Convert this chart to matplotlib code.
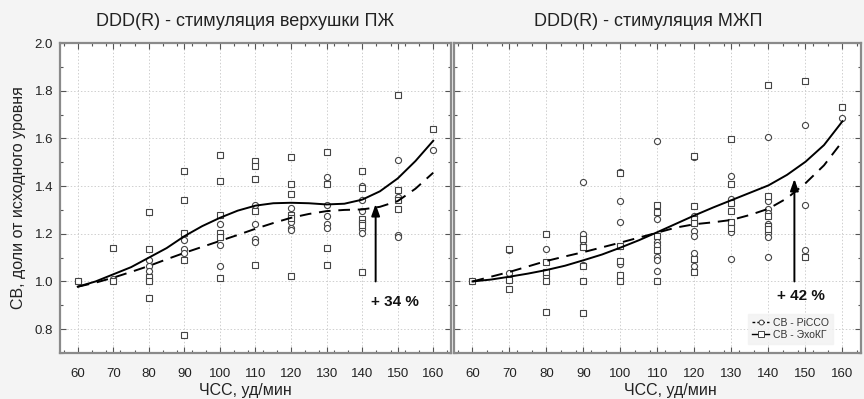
import matplotlib
matplotlib.use("Agg")
import matplotlib.pyplot as plt
from matplotlib.lines import Line2D
import numpy as np

plt.rcParams['font.family'] = ['Liberation Sans', 'DejaVu Sans']

# ---------------- data ----------------
titles = ["DDD(R) - стимуляция верхушки ПЖ", "DDD(R) - стимуляция МЖП"]
x_label = "ЧСС, уд/мин"
y_label = "СВ, доли от исходного уровня"
legend_labels = ["СВ - PiCCO", "СВ - ЭхоКГ"]
x_ticks = [60, 70, 80, 90, 100, 110, 120, 130, 140, 150, 160]
y_ticks = [0.8, 1.0, 1.2, 1.4, 1.6, 1.8, 2.0]

# Left panel: ЭхоКГ (squares)
left_echo_x = [60, 70, 70, 80, 80, 80, 80, 80, 90, 90, 90, 90, 90,
               100, 100, 100, 100, 100, 100, 110, 110, 110, 110, 110,
               120, 120, 120, 120, 120, 120, 130, 130, 130, 130,
               140, 140, 140, 140, 140, 140, 150, 150, 150, 150, 160]
left_echo_y = [1.00, 1.14, 1.00, 1.29, 1.135, 1.02, 1.00, 0.93, 1.465, 1.34, 1.205, 1.09, 0.775,
               1.53, 1.42, 1.28, 1.205, 1.185, 1.015, 1.505, 1.485, 1.43, 1.295, 1.07,
               1.52, 1.41, 1.365, 1.28, 1.265, 1.025, 1.545, 1.41, 1.14, 1.07,
               1.465, 1.39, 1.26, 1.245, 1.235, 1.04, 1.78, 1.385, 1.34, 1.305, 1.64]
# Left panel: PiCCO (circles)
left_picco_x = [60, 70, 80, 80, 80, 90, 90, 90, 100, 100, 100,
                110, 110, 110, 110, 120, 120, 120, 120,
                130, 130, 130, 130, 130, 140, 140, 140, 140, 140,
                150, 150, 150, 150, 160]
left_picco_y = [1.00, 1.01, 1.09, 1.065, 1.045, 1.175, 1.135, 1.12, 1.24, 1.155, 1.065,
                1.32, 1.24, 1.18, 1.165, 1.31, 1.25, 1.225, 1.215,
                1.44, 1.32, 1.275, 1.24, 1.225, 1.40, 1.34, 1.295, 1.22, 1.205,
                1.51, 1.355, 1.195, 1.185, 1.55]

# Right panel: ЭхоКГ (squares)
right_echo_x = [60, 70, 70, 70, 80, 80, 80, 80, 80, 90, 90, 90, 90, 90,
                100, 100, 100, 100, 100, 110, 110, 110, 110, 110,
                120, 120, 120, 120, 120, 120, 130, 130, 130, 130, 130, 130,
                140, 140, 140, 140, 140, 150, 150, 160]
right_echo_y = [1.00, 1.137, 1.005, 0.97, 1.197, 1.083, 1.04, 1.00, 0.873, 1.18, 1.144, 1.065, 1.002, 0.866,
                1.455, 1.149, 1.086, 1.026, 1.002, 1.319, 1.291, 1.19, 1.132, 1.002,
                1.528, 1.316, 1.26, 1.246, 1.096, 1.04, 1.598, 1.41, 1.327, 1.295, 1.249, 1.226,
                1.822, 1.358, 1.274, 1.232, 1.218, 1.842, 1.104, 1.73]
# Right panel: PiCCO (circles)
right_picco_x = [60, 70, 70, 80, 80, 90, 90, 90, 90, 100, 100, 100, 100,
                 110, 110, 110, 110, 110, 110, 110, 120, 120, 120, 120, 120, 120,
                 130, 130, 130, 130, 130, 140, 140, 140, 140, 140, 140, 140, 140,
                 150, 150, 150, 160]
right_picco_y = [1.00, 1.132, 1.037, 1.135, 1.025, 1.416, 1.20, 1.151, 1.07, 1.46, 1.337, 1.249, 1.072,
                 1.588, 1.26, 1.165, 1.151, 1.104, 1.09, 1.044, 1.52, 1.274, 1.211, 1.19, 1.118, 1.065,
                 1.441, 1.344, 1.239, 1.207, 1.096, 1.607, 1.337, 1.305, 1.288, 1.243, 1.205, 1.188, 1.104,
                 1.656, 1.319, 1.132, 1.685]

# Fitted curves
fit_x = [60, 65, 70, 75, 80, 85, 90, 95, 100, 105, 110, 115, 120, 125, 130, 135, 140, 145, 150, 155, 160]
left_echo_fit = [0.978, 1.00, 1.03, 1.06, 1.10, 1.14, 1.19, 1.232, 1.267, 1.297, 1.318, 1.328, 1.33,
                 1.328, 1.323, 1.326, 1.343, 1.378, 1.432, 1.505, 1.59]
left_picco_fit = [0.978, 0.995, 1.016, 1.04, 1.065, 1.093, 1.12, 1.145, 1.17, 1.195, 1.221, 1.245,
                  1.267, 1.283, 1.295, 1.30, 1.302, 1.313, 1.337, 1.389, 1.456]
right_echo_fit = [1.0, 1.008, 1.02, 1.033, 1.048, 1.066, 1.089, 1.113, 1.142, 1.173, 1.207, 1.242,
                  1.277, 1.31, 1.341, 1.372, 1.403, 1.447, 1.502, 1.572, 1.672]
right_picco_fit = [1.0, 1.02, 1.04, 1.063, 1.086, 1.105, 1.123, 1.143, 1.163, 1.184, 1.205, 1.226,
                   1.24, 1.248, 1.258, 1.279, 1.305, 1.349, 1.412, 1.487, 1.588]

# Arrows: (x, y_start, y_end, label, label_x, label_y)
arrows = [(143.8, 1.0, 1.325, "+ 34 %", 149.2, 0.912),
          (147.0, 1.0, 1.43, "+ 42 %", 148.8, 0.937)]

# ---------------- figure ----------------
bg = '#f4f4f4'
fig = plt.figure(figsize=(8.64, 3.99), dpi=100, facecolor=bg)
W, H = 864, 399
ax_px = [(60, 451), (454, 861)]
top_px, bot_px = 43, 353
axes = []
for (x0, x1) in ax_px:
    ax = fig.add_axes([x0 / W, 1 - bot_px / H, (x1 - x0) / W, (bot_px - top_px) / H])
    axes.append(ax)

panels = [
    (left_echo_x, left_echo_y, left_picco_x, left_picco_y, left_echo_fit, left_picco_fit),
    (right_echo_x, right_echo_y, right_picco_x, right_picco_y, right_echo_fit, right_picco_fit),
]

mk_col = '#444444'
for i, ax in enumerate(axes):
    ex, ey, px_, py_, efit, pfit = panels[i]
    ax.set_facecolor('white')
    ax.set_xlim(55, 165)
    ax.set_ylim(0.7, 2.0)
    ax.set_xticks(x_ticks)
    ax.set_xticks(np.arange(56, 165, 4), minor=True)
    ax.set_yticks(y_ticks)
    ax.set_yticks(np.arange(0.7, 2.001, 0.1), minor=True)
    ax.grid(True, which='major', color='#cfcfcf', linestyle=(0, (1.5, 2)), linewidth=0.7)
    ax.set_axisbelow(True)
    ax.tick_params(which='both', direction='in', top=True, right=True, colors='#555555',
                   labelcolor='#222222', labelsize=9.5)
    ax.tick_params(which='major', length=4, width=0.8)
    ax.tick_params(which='minor', length=2.5, width=0.8)
    ax.tick_params(axis='x', pad=11)
    ax.tick_params(axis='y', pad=5)
    for s in ax.spines.values():
        s.set_color('#8a8a8a')
        s.set_linewidth(1.6)

    ax.plot(px_, py_, linestyle='none', marker='o', markersize=4.4, markerfacecolor='white',
            markeredgecolor=mk_col, markeredgewidth=0.8, zorder=3)
    ax.plot(ex, ey, linestyle='none', marker='s', markersize=5.0, markerfacecolor='white',
            markeredgecolor=mk_col, markeredgewidth=0.8, zorder=3)
    ax.plot(fit_x, efit, color='black', linewidth=1.4, zorder=4)
    ax.plot(fit_x, pfit, color='black', linewidth=1.4, linestyle=(0, (6, 4)), zorder=4)

    axx, y0, y1, lab, lx, ly = arrows[i]
    ax.annotate('', xy=(axx, y1), xytext=(axx, y0),
                arrowprops=dict(arrowstyle='-|>,head_length=0.7,head_width=0.25',
                                color='black', lw=1.4, shrinkA=0, shrinkB=0), zorder=5)
    ax.text(lx, ly, lab, fontsize=11, fontweight='bold', ha='center', va='center', color='#111111')

axes[1].tick_params(axis='y', labelleft=False)
axes[0].set_ylabel(y_label, fontsize=11.5, color='#222222', labelpad=6)

# titles & x labels
fig.text(245 / W, 1 - 22 / H, titles[0], fontsize=13, ha='center', va='center', color='#222222')
fig.text(648 / W, 1 - 22 / H, titles[1], fontsize=13, ha='center', va='center', color='#222222')
fig.text(245 / W, 1 - 390 / H, x_label, fontsize=11.5, ha='center', va='center', color='#222222')
fig.text(670 / W, 1 - 390 / H, x_label, fontsize=11.5, ha='center', va='center', color='#222222')

# legend
handles = [Line2D([], [], color='black', linestyle=(0, (2, 1.5)), linewidth=1.0, marker='o',
                  markersize=3.5, markerfacecolor='white', markeredgecolor=mk_col, markeredgewidth=0.7),
           Line2D([], [], color='black', linestyle='-', linewidth=1.0, marker='s',
                  markersize=3.8, markerfacecolor='white', markeredgecolor=mk_col, markeredgewidth=0.7)]
leg = axes[1].legend(handles, legend_labels, loc='lower right', bbox_to_anchor=(0.945, 0.012),
                     fontsize=7.5, frameon=True, handlelength=1.6, handletextpad=0.4,
                     borderpad=0.4, labelspacing=0.2, fancybox=False)
leg.get_frame().set_facecolor('#f2f2f2')
leg.get_frame().set_edgecolor('#f2f2f2')
for t in leg.get_texts():
    t.set_color('#333333')

fig.savefig('out.png', dpi=100, facecolor=bg)
